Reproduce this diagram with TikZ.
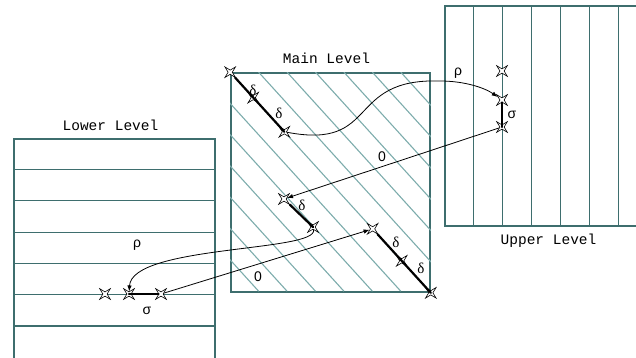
\documentclass[tikz,border=0pt]{standalone}
\usepackage{fontspec}
\usepackage{tikz}
\usetikzlibrary{shapes.geometric, arrows.meta, positioning, calc}
\newfontfamily\lvlfont{Liberation Mono}
\newfontfamily\grkfont{Liberation Sans}
\newfontfamily\dltfont{Liberation Serif}
\definecolor{lvlteal}{RGB}{62,110,110}
\definecolor{hatchteal}{RGB}{125,172,172}

\begin{document}
\begin{tikzpicture}[
  x=1pt, y=-1pt,
  lvlbox/.style={rectangle, draw=lvlteal, line width=1.6pt, inner sep=0pt},
  lvlline/.style={lvlteal, line width=1.1pt},
  hatch/.style={hatchteal, line width=1.1pt},
  lvltitle/.style={font=\lvlfont\fontsize{14.5}{14.5}\selectfont, inner sep=0pt, xshift=-4pt},
  spark/.style={star, star points=4, star point ratio=0.28, minimum size=4.2pt, inner sep=0pt, draw=black, fill=white, line width=0.6pt},
  seg/.style={line width=2.2pt, line cap=round},
  arrow/.style={-{Latex[length=6pt,width=4.5pt]}, line width=0.8pt},
  dlt/.style={font=\dltfont\fontsize{15}{15}\selectfont, inner sep=0pt},
  grk/.style={font=\grkfont\fontsize{14}{14}\selectfont, inner sep=0pt}
]
\useasboundingbox (0,0) rectangle (636,358);
\clip (0,0) rectangle (636,358);

% Levels
\node[lvlbox, minimum width=199pt, minimum height=219pt] (mainlvl) at (330.5,182.5) {};
\node[lvlbox, minimum width=201pt, minimum height=300pt] (lowlvl) at (114.5,289) {};
\node[lvlbox, minimum width=215pt, minimum height=220pt] (upplvl) at (552.5,116) {};

\node[lvltitle, above=8pt of mainlvl] {Main Level};
\node[lvltitle, above=7.5pt of lowlvl] {Lower Level};
\node[lvltitle, below=6.5pt of upplvl] {Upper Level};

\begin{scope}
  \clip (mainlvl.north west) rectangle (mainlvl.south east);
  \foreach \k in {-6,...,6}
    \draw[hatch] ([xshift=\k*28.43pt]mainlvl.north west) -- ++(199,219);
\end{scope}
\foreach \k in {1,...,6}
  \draw[lvlline] ([yshift=-\k*31.3pt]lowlvl.north west) -- ([yshift=-\k*31.3pt]lowlvl.north east);
\foreach \k in {1,...,7}
  \draw[lvlline] ([xshift=\k*29.1pt]upplvl.north west) -- ([xshift=\k*29.1pt]upplvl.south west);

% Stars
\node[spark] (m1) at (mainlvl.north west) {};
\node[spark] (m2) at ($(mainlvl.north west)!0.115!(mainlvl.south east)$) {};
\node[spark] (m3) at ($(mainlvl.north west)!0.27!(mainlvl.south east)$) {};
\node[spark] (m4) at (284,199) {};
\node[spark] (m5) at (313,227) {};
\node[spark] (m6) at ($(mainlvl.north west)!0.71!(mainlvl.south east)$) {};
\node[spark] (m7) at ($(mainlvl.north west)!0.855!(mainlvl.south east)$) {};
\node[spark] (m8) at (mainlvl.south east) {};
\node[spark] (u1) at (502,71) {};
\node[spark] (u2) at (502,100) {};
\node[spark] (u3) at (502,127) {};
\node[spark] (l1) at (105,294) {};
\node[spark] (l2) at (129,294) {};
\node[spark] (l3) at (161,294) {};

% Segments
\draw[seg] (m1) -- (m3.center);
\draw[seg] (m4) -- (m5.center);
\draw[seg] (m6) -- (m8.center);
\draw[seg] (u2) -- (u3.center);
\draw[seg] (l2.center) -- (l3);

% Labels
\node[dlt] (d1) at (253,90) {δ};
\node[dlt] (d2) at (279,113) {δ};
\node[dlt] (d3) at (302,205) {δ};
\node[dlt] (d4) at (396,242) {δ};
\node[dlt] (d5) at (421,268) {δ};
\node[grk] (rhoup) at (458,73) {ρ};
\node[grk] (sigup) at (512,115) {σ};
\node[grk] (zeroup) at (382,157) {0};
\node[grk] (zerolow) at (258,277) {0};
\node[grk] (rholow) at (137,245) {ρ};
\node[grk] (siglow) at (147,311) {σ};

% Arrows
\coordinate (rhobend) at (440,81);
\draw[arrow] (m3) .. controls (380,150) and (345,78) .. (rhobend) .. controls (465,81) and (485,88) .. (u2);
\draw[arrow] (u3) -- (m4);
\draw[arrow] (m5) .. controls (318,252) and (132,245) .. (l2);
\draw[arrow] (l3) -- (m6);

\end{tikzpicture}
\end{document}
